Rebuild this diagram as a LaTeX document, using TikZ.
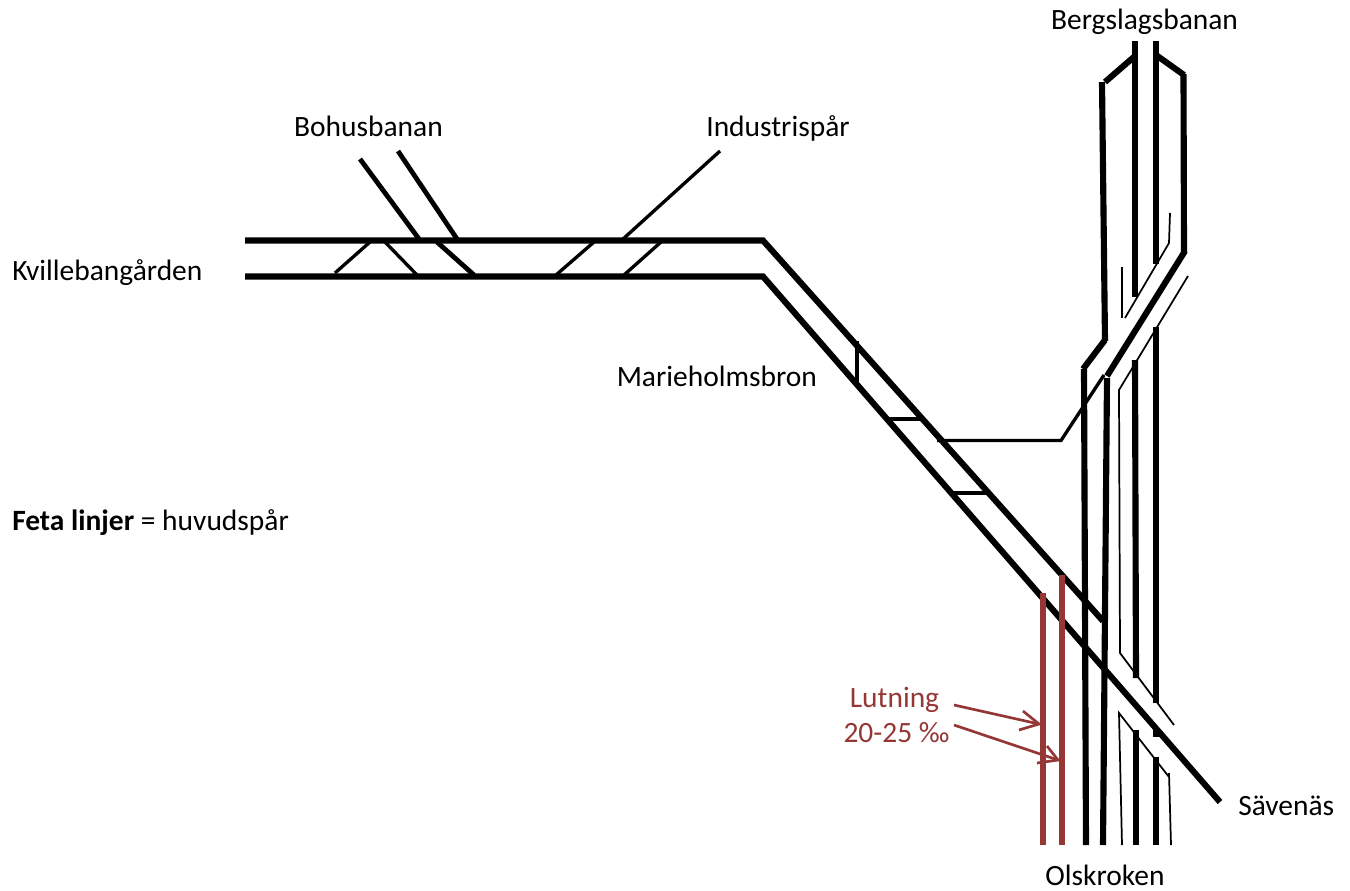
\documentclass[tikz,border=0pt]{standalone}
\usepackage{fontspec}
\setmainfont{Carlito}
\definecolor{brickred}{HTML}{953735}
\begin{document}
\begin{tikzpicture}[x=0.75pt,y=-0.75pt,
  main/.style={draw=black,line width=4.6pt,line cap=butt,line join=miter},
  mid/.style={draw=black,line width=3.6pt,line cap=butt},
  slim/.style={draw=black,line width=2.5pt,line cap=butt,line join=miter},
  hair/.style={draw=black,line width=1.3pt,line cap=butt,line join=miter},
  redtrack/.style={draw=brickred,line width=4.6pt,line cap=butt},
  redarrow/.style={draw=brickred,line width=2pt,line cap=butt,line join=miter},
  lbl/.style={font=\fontsize{22.1pt}{25pt}\selectfont,inner sep=0pt,text=black},
  redlbl/.style={lbl,text=brickred}]
\useasboundingbox (0,0) rectangle (1350,890);
% horizontal yard and long diagonals
\path[main] (245,240.5) -- (763,240.5) -- (1103,621);
\path[main] (245,276.5) -- (763,276.5) -- (1220,802);
% crossovers at the yard
\path[slim] (335,273) -- (370,242);
\path[slim] (385,242) -- (417,275);
\path[mid] (437,242) -- (474,275);
\path[slim] (556,275) -- (594,242);
\path[slim] (624,275) -- (661,242);
\path[slim] (623,239) -- (720,151);
\path[mid] (360,159) -- (419,239);
\path[mid] (398,151) -- (457,239);
% crossovers on the diagonal
\path[slim] (857,341) -- (857,384);
\path[slim] (888,419) -- (923,419);
\path[slim] (951,493) -- (989,493);
% link to the main lines
\path[slim] (937,440.5) -- (1061,440.5) -- (1104,375);
% vertical main lines
\path[main] (1135,41) -- (1135,297);
\path[main] (1135,360) -- (1136,678);
\path[main] (1136,730) -- (1136,845);
\path[main] (1156,41) -- (1156,264);
\path[main] (1156,327) -- (1156,703);
\path[main] (1156,728) -- (1156,737);
\path[main] (1156,757) -- (1156,845);
\path[main] (1102,82) -- (1105,341);
\path[main] (1105,82) -- (1135,56);
\path[main] (1156,55) -- (1184,75);
\path[main] (1183.5,74) -- (1184,253);
\path[main] (1185,251) -- (1107,376);
\path[main] (1105,340) -- (1083,369);
\path[main] (1084,369) -- (1086,845);
\path[main] (1107,378) -- (1103,845);
% thin bridge lines
\path[hair] (1122,267) -- (1122,318);
\path[hair] (1125,318) -- (1169,243) -- (1170,213);
\path[hair] (1188,276) -- (1119,390) -- (1120,653) -- (1174,725);
\path[hair] (1171,845) -- (1169,773) -- (1169,777) -- (1119,713) -- (1122,845);
% red tracks
\path[redtrack] (1043,593) -- (1043,845);
\path[redtrack] (1062,575) -- (1062,845);
% red arrows
\path[redarrow] (954,705) -- (1039,724);
\path[redarrow] (1023,711) -- (1039,724) -- (1019,730);
\path[redarrow] (954,725) -- (1058,760);
\path[redarrow] (1047,746) -- (1058,760) -- (1037,763);
% labels
\node[lbl,anchor=base] (bergslag) at (1144.5,29) {Bergslagsbanan};
\node[lbl,anchor=base] (bohus) at (368.5,136) {Bohusbanan};
\node[lbl,anchor=base] (industri) at (778,136) {Industrispår};
\node[lbl,anchor=base west] (kville) at (12,280) {Kvillebangården};
\node[lbl,anchor=base west] (marie) at (616.5,386) {Marieholmsbron};
\node[lbl,anchor=base west] (feta) at (12,530) {\textbf{Feta linjer} = huvudspår};
\node[lbl,anchor=base west] (saven) at (1238,815) {Sävenäs};
\node[lbl,anchor=base] (olsk) at (1105,885) {Olskroken};
\node[redlbl,anchor=base] (lutn) at (894.5,707) {Lutning};
\node[redlbl,anchor=base] (grad) at (896.5,742) {20-25 ‰};
\end{tikzpicture}
\end{document}
